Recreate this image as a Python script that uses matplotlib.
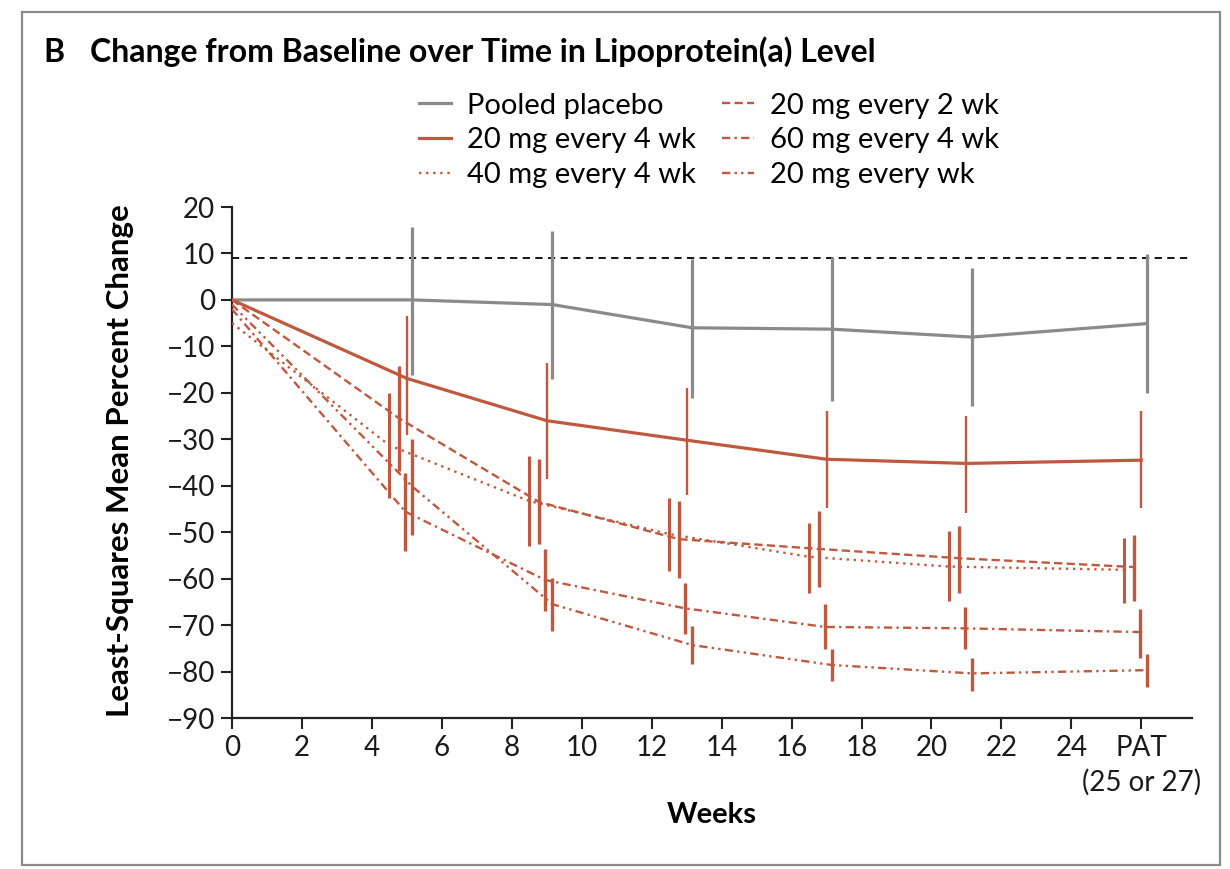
import matplotlib
matplotlib.use("Agg")
import matplotlib.pyplot as plt
from matplotlib.patches import Rectangle
from matplotlib.transforms import blended_transform_factory

plt.rcParams['font.family'] = ['Lato', 'DejaVu Sans']

# weeks of the visits (PAT drawn at 26)
weeks = [5, 9, 13, 17, 21, 26]
xticks = [0, 2, 4, 6, 8, 10, 12, 14, 16, 18, 20, 22, 24, 26]
xticklabels = ['0', '2', '4', '6', '8', '10', '12', '14', '16', '18', '20', '22', '24', 'PAT']
pat_note = '(25 or 27)'
yticks = [20, 10, 0, -10, -20, -30, -40, -50, -60, -70, -80, -90]

labels = ['Pooled placebo', '20 mg every 4 wk', '40 mg every 4 wk',
          '20 mg every 2 wk', '60 mg every 4 wk', '20 mg every wk']

# value at week 0, then the visit means, lower and upper ends of the bars
start = [0, 0, -5, 0, -2, -1]
mean_placebo = [0, -1, -6, -6.3, -8, -5.1]
lo_placebo = [-16.1, -17.1, -21.1, -21.8, -22.9, -20.1]
hi_placebo = [15.7, 14.8, 8.8, 9.2, 6.9, 9.9]

mean_20q4 = [-16.9, -26, -30.2, -34.3, -35.2, -34.5]
lo_20q4 = [-29, -38.6, -41.9, -44.7, -45.8, -44.7]
hi_20q4 = [-3.5, -13.5, -18.9, -23.9, -25, -23.9]

mean_40q4 = [-31.3, -43.3, -50.4, -55.3, -57.4, -58.1]
lo_40q4 = [-42.6, -53, -58.3, -63, -64.8, -65.2]
hi_40q4 = [-20, -33.6, -42.6, -48, -49.7, -51.3]

mean_20q2 = [-25.5, -43.5, -51.5, -53.6, -55.6, -57.5]
lo_20q2 = [-36.8, -52.6, -59.8, -61.9, -63, -64.8]
hi_20q2 = [-14.2, -34.3, -43.3, -45.4, -48.7, -50.7]

mean_60q4 = [-45.6, -60.3, -66.4, -70.4, -70.7, -71.5]
lo_60q4 = [-54, -67, -72, -75.2, -75.2, -77]
hi_60q4 = [-37.2, -53.7, -60.9, -65.5, -66.2, -66.6]

mean_20qw = [-40.2, -65.5, -74.3, -78.6, -80.4, -79.7]
lo_20qw = [-50.5, -71.2, -78.4, -82, -84.2, -83.4]
hi_20qw = [-30, -59.8, -70.2, -75.2, -77, -76.3]

ref_line = 9

means = [mean_placebo, mean_20q4, mean_40q4, mean_20q2, mean_60q4, mean_20qw]
lows = [lo_placebo, lo_20q4, lo_40q4, lo_20q2, lo_60q4, lo_20qw]
highs = [hi_placebo, hi_20q4, hi_40q4, hi_20q2, hi_60q4, hi_20qw]

grey = '#8a8a8a'
red = '#c0583f'
colors = [grey, red, red, red, red, red]
styles = ['-', '-', (0, (1, 2)), (0, (3.5, 1.8)), (0, (3.5, 1.8, 1, 1.8)), (0, (3.5, 1.8, 1, 1.8, 1, 1.8))]
lws = [2.3, 2.3, 1.7, 1.7, 1.7, 1.7]
bar_lws = [2.3, 1.7, 2.2, 2.4, 2.4, 2.4]
shift = [0.16, 0.0, -0.5, -0.22, -0.04, 0.16]

fig = plt.figure(figsize=(12.3, 8.69), dpi=100)
ax = fig.add_axes([232 / 1230, 151 / 869, 960 / 1230, 511 / 869])

ax.axhline(ref_line, color='black', lw=1.3, ls=(0, (4, 3)), zorder=1)

handles = []
for i in range(6):
    xs = [0] + [w + shift[i] for w in weeks]
    ys = [start[i]] + means[i]
    h, = ax.plot(xs, ys, color=colors[i], ls=styles[i], lw=lws[i], label=labels[i], zorder=3)
    handles.append(h)
    ax.vlines(xs[1:], lows[i], highs[i], color=colors[i], lw=bar_lws[i], zorder=4)

ax.set_xlim(0, 27.45)
ax.set_ylim(-90, 20)
ax.set_xticks(xticks)
ax.set_xticklabels(xticklabels)
ax.set_yticks(yticks)
ax.set_yticklabels([str(t).replace('-', '\u2212') for t in yticks])
for s in ['top', 'right']:
    ax.spines[s].set_visible(False)
for s in ['left', 'bottom']:
    ax.spines[s].set_linewidth(1.6)
    ax.spines[s].set_color('#222222')
ax.tick_params(axis='both', direction='out', length=8, width=1.5, labelsize=20, color='#222222',
               labelcolor='#1a1a1a', pad=4)

# second line under the PAT tick
trans = blended_transform_factory(ax.transData, fig.transFigure)
ax.text(xticks[-1], 1 - 782 / 869, pat_note, transform=trans, fontsize=20, color='#1a1a1a',
        ha='center', va='center')

fig.legend(handles=handles, labels=labels, ncol=2, frameon=False, fontsize=21,
           loc='upper left', bbox_to_anchor=(404 / 1230, 1 - 78 / 869),
           handlelength=1.1, handletextpad=0.55, columnspacing=0.9, labelspacing=0.3, borderpad=0)

fig.text(43 / 1230, 1 - 62 / 869, 'B', fontsize=23, fontweight='bold', va='baseline')
fig.text(90 / 1230, 1 - 62 / 869, 'Change from Baseline over Time in Lipoprotein(a) Level',
         fontsize=23, fontweight='bold', va='baseline')
fig.text(120 / 1230, 1 - 461 / 869, 'Least-Squares Mean Percent Change', rotation=90,
         fontsize=22.5, fontweight='bold', ha='center', va='center')
fig.text(712 / 1230, 1 - 815 / 869, 'Weeks', fontsize=21, fontweight='bold', ha='center', va='center')

# panel frame
fig.patches.append(Rectangle((22 / 1230, 4 / 869), 1198 / 1230, 853 / 869, transform=fig.transFigure,
                             fill=False, edgecolor='#8a8a8a', lw=1.6))

fig.savefig('out.png', dpi=100)
